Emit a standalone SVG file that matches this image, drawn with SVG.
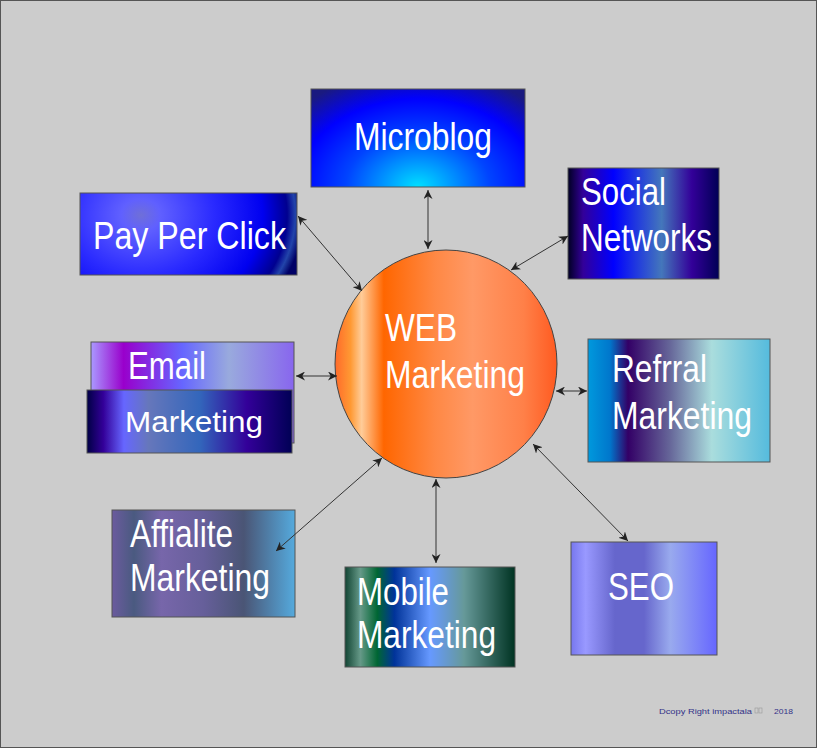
<svg xmlns="http://www.w3.org/2000/svg" width="817" height="748" viewBox="0 0 817 748">
<style>
.box{stroke:#555;stroke-width:1}
.lbl{font-family:"Liberation Sans",Arial,sans-serif;font-size:38px;fill:#fff}
.con{stroke:#333;stroke-width:1;fill:none;marker-start:url(#ah);marker-end:url(#ah)}
</style>
<defs>
<marker id="ah" viewBox="0 0 10 10" refX="10" refY="5" markerWidth="9" markerHeight="9" markerUnits="userSpaceOnUse" orient="auto-start-reverse">
<path d="M0,0 L10,5 L0,10 L3,5 Z" fill="#222"/>
</marker>
<radialGradient id="gMicro" cx="0.5" cy="1" r="0.75" gradientTransform="translate(0.5 1) scale(1 1.6) translate(-0.5 -1)">
<stop offset="0" stop-color="#00e0ff"/>
<stop offset="0.45" stop-color="#0044ff"/>
<stop offset="0.75" stop-color="#0000ff"/>
<stop offset="1" stop-color="#1a1a80"/>
</radialGradient>
<radialGradient id="gPPC" cx="0.28" cy="0.27" r="0.75" gradientTransform="translate(0.28 0.27) scale(1 2.2) translate(-0.28 -0.27)">
<stop offset="0" stop-color="#6f6fd8"/>
<stop offset="0.12" stop-color="#6060ff"/>
<stop offset="0.45" stop-color="#2a2aff"/>
<stop offset="0.75" stop-color="#0000f0"/>
<stop offset="0.9" stop-color="#000090"/>
<stop offset="0.95" stop-color="#2244aa"/>
<stop offset="1" stop-color="#000066"/>
</radialGradient>
<linearGradient id="gSocial" x1="0" y1="0" x2="1" y2="0">
<stop offset="0" stop-color="#000022"/>
<stop offset="0.1" stop-color="#330099"/>
<stop offset="0.3" stop-color="#0000ff"/>
<stop offset="0.62" stop-color="#4477bb"/>
<stop offset="0.82" stop-color="#330099"/>
<stop offset="1" stop-color="#000055"/>
</linearGradient>
<linearGradient id="gEmailBack" x1="0" y1="0" x2="1" y2="0">
<stop offset="0" stop-color="#aa99ff"/>
<stop offset="0.16" stop-color="#9900cc"/>
<stop offset="0.45" stop-color="#6666ff"/>
<stop offset="0.68" stop-color="#99aadd"/>
<stop offset="1" stop-color="#8866ee"/>
</linearGradient>
<linearGradient id="gEmailFront" x1="0" y1="0" x2="1" y2="0">
<stop offset="0" stop-color="#000044"/>
<stop offset="0.08" stop-color="#330099"/>
<stop offset="0.18" stop-color="#6666ff"/>
<stop offset="0.3" stop-color="#6677bb"/>
<stop offset="0.55" stop-color="#3366bb"/>
<stop offset="0.78" stop-color="#330099"/>
<stop offset="1" stop-color="#000055"/>
</linearGradient>
<linearGradient id="gRef" x1="0" y1="0" x2="1" y2="0">
<stop offset="0" stop-color="#0099dd"/>
<stop offset="0.12" stop-color="#0077cc"/>
<stop offset="0.22" stop-color="#330066"/>
<stop offset="0.45" stop-color="#666699"/>
<stop offset="0.68" stop-color="#aadddd"/>
<stop offset="1" stop-color="#55bbdd"/>
</linearGradient>
<linearGradient id="gAff" x1="0" y1="0" x2="1" y2="0">
<stop offset="0" stop-color="#6b5b9e"/>
<stop offset="0.12" stop-color="#4a5a80"/>
<stop offset="0.27" stop-color="#7766aa"/>
<stop offset="0.5" stop-color="#665f9a"/>
<stop offset="0.72" stop-color="#4a5575"/>
<stop offset="1" stop-color="#55aadd"/>
</linearGradient>
<linearGradient id="gMob" x1="0" y1="0" x2="1" y2="0">
<stop offset="0" stop-color="#114433"/>
<stop offset="0.09" stop-color="#669988"/>
<stop offset="0.19" stop-color="#006633"/>
<stop offset="0.29" stop-color="#003399"/>
<stop offset="0.5" stop-color="#6699ff"/>
<stop offset="0.7" stop-color="#669999"/>
<stop offset="1" stop-color="#003322"/>
</linearGradient>
<linearGradient id="gSEO" x1="0" y1="0" x2="1" y2="0">
<stop offset="0" stop-color="#7777ee"/>
<stop offset="0.1" stop-color="#9999ff"/>
<stop offset="0.3" stop-color="#6666cc"/>
<stop offset="0.5" stop-color="#6666cc"/>
<stop offset="0.68" stop-color="#99aaee"/>
<stop offset="1" stop-color="#6666ff"/>
</linearGradient>
<linearGradient id="gWeb" x1="0" y1="0" x2="1" y2="0">
<stop offset="0" stop-color="#ff6a2a"/>
<stop offset="0.07" stop-color="#ff9933"/>
<stop offset="0.12" stop-color="#ffcc99"/>
<stop offset="0.22" stop-color="#ff6600"/>
<stop offset="0.45" stop-color="#ff8844"/>
<stop offset="0.62" stop-color="#ff9966"/>
<stop offset="0.85" stop-color="#ff8048"/>
<stop offset="1" stop-color="#ff5a20"/>
</linearGradient>
</defs>
<rect x="0.5" y="0.5" width="816" height="747" fill="#cccccc" stroke="#555" stroke-width="1"/>

<g id="web">
<ellipse cx="446" cy="364" rx="111" ry="114" fill="url(#gWeb)" stroke="#444" stroke-width="1"/>
<text class="lbl" x="385" y="341" textLength="72" lengthAdjust="spacingAndGlyphs">WEB</text>
<text class="lbl" x="385" y="388" textLength="140" lengthAdjust="spacingAndGlyphs">Marketing</text>
</g>

<g id="microblog">
<rect class="box" x="311" y="89" width="214" height="98" fill="url(#gMicro)"/>
<text class="lbl" x="354" y="150" textLength="138" lengthAdjust="spacingAndGlyphs">Microblog</text>
</g>

<g id="social">
<rect class="box" x="568" y="168" width="151" height="111" fill="url(#gSocial)"/>
<text class="lbl" x="581" y="205" textLength="85" lengthAdjust="spacingAndGlyphs">Social</text>
<text class="lbl" x="581" y="251" textLength="131" lengthAdjust="spacingAndGlyphs">Networks</text>
</g>

<g id="ppc">
<rect class="box" x="80" y="193" width="217" height="82" fill="url(#gPPC)"/>
<text class="lbl" x="93" y="249" textLength="193" lengthAdjust="spacingAndGlyphs">Pay Per Click</text>
</g>

<g id="email">
<rect class="box" x="91" y="342" width="203" height="101" fill="url(#gEmailBack)"/>
<text class="lbl" x="128" y="379" textLength="78" lengthAdjust="spacingAndGlyphs">Email</text>
<rect class="box" x="87" y="390" width="205" height="63" fill="url(#gEmailFront)"/>
<text class="lbl" x="125" y="432" style="font-size:30px" textLength="138" lengthAdjust="spacingAndGlyphs">Marketing</text>
</g>

<g id="refrral">
<rect class="box" x="588" y="339" width="182" height="123" fill="url(#gRef)"/>
<text class="lbl" x="612" y="382" textLength="95" lengthAdjust="spacingAndGlyphs">Refrral</text>
<text class="lbl" x="612" y="429" textLength="140" lengthAdjust="spacingAndGlyphs">Marketing</text>
</g>

<g id="affialite">
<rect class="box" x="112" y="510" width="183" height="107" fill="url(#gAff)"/>
<text class="lbl" x="130" y="547" textLength="103" lengthAdjust="spacingAndGlyphs">Affialite</text>
<text class="lbl" x="130" y="591" textLength="140" lengthAdjust="spacingAndGlyphs">Marketing</text>
</g>

<g id="mobile">
<rect class="box" x="345" y="567" width="170" height="100" fill="url(#gMob)"/>
<text class="lbl" x="357" y="605" textLength="92" lengthAdjust="spacingAndGlyphs">Mobile</text>
<text class="lbl" x="357" y="648" textLength="139" lengthAdjust="spacingAndGlyphs">Marketing</text>
</g>

<g id="seo">
<rect class="box" x="571" y="542" width="146" height="113" fill="url(#gSEO)"/>
<text class="lbl" x="608" y="600" textLength="66" lengthAdjust="spacingAndGlyphs">SEO</text>
</g>

<g id="connectors">
<line class="con" x1="428" y1="190" x2="428" y2="249"/>
<line class="con" x1="298" y1="216" x2="362" y2="291"/>
<line class="con" x1="568" y1="236" x2="511" y2="270"/>
<line class="con" x1="296" y1="376" x2="337" y2="376"/>
<line class="con" x1="556" y1="391" x2="587" y2="391"/>
<line class="con" x1="276" y1="551" x2="382" y2="458"/>
<line class="con" x1="436" y1="479" x2="436" y2="563"/>
<line class="con" x1="533" y1="444" x2="628" y2="541"/>
</g>

<g id="copyright" font-family="'Liberation Sans',Arial,sans-serif" font-size="8" fill="#333388">
<text x="659" y="714" textLength="93" lengthAdjust="spacingAndGlyphs">Dcopy Right impactala</text>
<rect x="755" y="708" width="3" height="5" fill="none" stroke="#999" stroke-width="0.6"/>
<rect x="759" y="708" width="3" height="5" fill="none" stroke="#999" stroke-width="0.6"/>
<text x="774" y="714" textLength="19" lengthAdjust="spacingAndGlyphs">2018</text>
</g>
</svg>
